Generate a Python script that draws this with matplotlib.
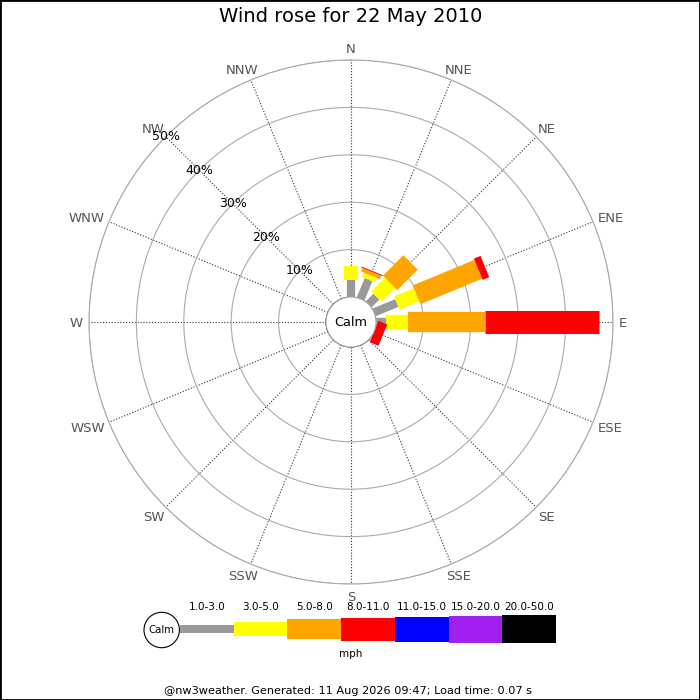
import numpy as np
import matplotlib
matplotlib.use("Agg")
import matplotlib.pyplot as plt
from matplotlib.patches import Circle, Rectangle

# ---------------- data ----------------
directions = ['N', 'NNE', 'NE', 'ENE', 'E', 'ESE', 'SE', 'SSE',
              'S', 'SSW', 'SW', 'WSW', 'W', 'WNW', 'NW', 'NNW']
speed_bins = ['1.0-3.0', '3.0-5.0', '5.0-8.0', '8.0-11.0',
              '11.0-15.0', '15.0-20.0', '20.0-50.0']
bin_colors = ['#999999', '#ffff00', '#ffa500', '#ff0000',
              '#0000ff', '#a020f0', '#000000']
# percentage of time per direction for each speed bin (mph)
pct_1_3 = [3.6, 4.4, 2.3, 5.2, 2.1, 0, 0, 0, 0, 0, 0, 0, 0, 0, 0, 0]
pct_3_5 = [2.9, 1.0, 4.1, 4.5, 4.7, 0, 0, 0, 0, 0, 0, 0, 0, 0, 0, 0]
pct_5_8 = [0, 0.8, 6.1, 14.1, 16.3, 0, 0, 0, 0, 0, 0, 0, 0, 0, 0, 0]
pct_8_11 = [0, 0.2, 0, 1.5, 23.9, 2.0, 0, 0, 0, 0, 0, 0, 0, 0, 0, 0]
pct_11_15 = [0] * 16
pct_15_20 = [0] * 16
pct_20_50 = [0] * 16
ring_ticks = [10, 20, 30, 40, 50]
ring_labels = ['10%', '20%', '30%', '40%', '50%']
title = 'Wind rose for 22 May 2010'
unit_label = 'mph'
footer = '@nw3weather. Generated: 11 Aug 2026 09:47; Load time: 0.07 s'

series = [pct_1_3, pct_3_5, pct_5_8, pct_8_11, pct_11_15, pct_15_20, pct_20_50]

# ---------------- layout ----------------
W = H = 700
DPI = 100
cx, cy = 351, 322          # centre in pixels (from top)
R = 262                    # outer radius px
calm_px = 25               # calm circle radius px
rmax = 50.0
rorig = -calm_px / (R - calm_px) * rmax
bar_px = [8.3, 14.3, 20.3, 23.0, 25.0, 27.0, 28.3]   # bar thickness per bin
px2pt = 72.0 / DPI

fig = plt.figure(figsize=(W / DPI, H / DPI), dpi=DPI)
fig.patch.set_facecolor('white')

ax = fig.add_axes([(cx - R) / W, (H - cy - R) / H, 2 * R / W, 2 * R / H],
                  projection='polar')
ax.set_theta_zero_location('N')
ax.set_theta_direction(-1)
ax.set_ylim(0, rmax)
ax.set_rorigin(rorig)

theta = np.deg2rad(np.arange(16) * 22.5)
ax.set_xticks(theta)
ax.set_xticklabels([])
ax.set_yticks(ring_ticks)
ax.set_yticklabels([])
ax.yaxis.grid(True, color='#aaaaaa', lw=0.8, ls='-')
ax.xaxis.grid(True, color='#333333', lw=0.8, ls=(0, (1, 1.6)))
ax.spines['polar'].set_color('#aaaaaa')
ax.spines['polar'].set_linewidth(0.8)
ax.tick_params(length=0)

# stacked bars as thick butt-capped radial lines (constant pixel width)
base = np.zeros(16)
for vals, col, bpx in zip(series, bin_colors, bar_px):
    vals = np.asarray(vals, dtype=float)
    for t, b, v in zip(theta, base, vals):
        if v > 0:
            ax.plot([t, t], [b, b + v], color=col, lw=bpx * px2pt,
                    solid_capstyle='butt', zorder=3)
    base = base + vals

# calm circle
ax.add_patch(Circle((0.5, 0.5), calm_px / (2 * R), transform=ax.transAxes,
                    facecolor='white', edgecolor='#aaaaaa', lw=0.8,
                    zorder=5, clip_on=False))
ax.text(0.5, 0.5, 'Calm', transform=ax.transAxes, ha='center', va='center',
        fontsize=9.3, color='black', zorder=6)

# ring labels along NW
for r, lab in zip(ring_ticks, ring_labels):
    ax.text(np.deg2rad(315), r, lab, ha='center', va='center', fontsize=9,
            color='black', zorder=6)

# direction labels just outside the outer circle
dir_texts = []
for t, lab in zip(theta, directions):
    a = ax.annotate(lab, xy=(t, rmax), xytext=(0, 0), textcoords='offset pixels',
                    ha='center', va='center_baseline', fontsize=9.5,
                    color='#555555', annotation_clip=False)
    dir_texts.append((t, a))
fig.canvas.draw()
rend = fig.canvas.get_renderer()
for t, a in dir_texts:
    w = a.get_window_extent(rend).width
    a.xyann = (np.sin(t) * (w / 2 + 6), np.cos(t) * 12)

# ---------------- overlay: title, legend, footer ----------------
ov = fig.add_axes([0, 0, 1, 1], zorder=10)
ov.set_xlim(0, W)
ov.set_ylim(H, 0)
ov.axis('off')
ov.patch.set_alpha(0)

ov.text(351, 17, title, ha='center', va='center', fontsize=14, color='black')

lx0, seg_w, ly = 180.0, 53.7, 629.2
for i, (lab, col, bpx) in enumerate(zip(speed_bins, bin_colors, bar_px)):
    x = lx0 + i * seg_w
    ov.add_patch(Rectangle((x, ly - bpx / 2), seg_w, bpx, facecolor=col,
                           edgecolor='none'))
    ov.text(x + seg_w / 2, 607, lab, ha='center', va='center', fontsize=7.5,
            color='black')
ov.add_patch(Circle((161.7, 630), 17.7, facecolor='white', edgecolor='black',
                    lw=0.8))
ov.text(161.7, 630, 'Calm', ha='center', va='center', fontsize=7.3)
ov.text(351, 654, unit_label, ha='center', va='center', fontsize=7.5)
ov.text(348, 691, footer, ha='center', va='center', fontsize=8.1)

fig.patches.append(Rectangle((0, 0), 1, 1, transform=fig.transFigure,
                             fill=False, edgecolor='black', lw=2))

fig.savefig('out.png', dpi=DPI, facecolor='white')
